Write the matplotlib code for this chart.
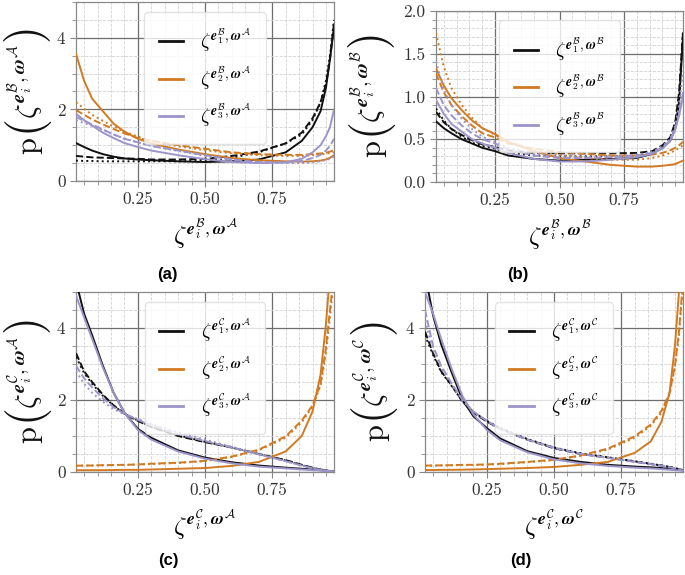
import matplotlib
matplotlib.use('Agg')
import matplotlib.pyplot as plt
from matplotlib.ticker import MultipleLocator, FormatStrFormatter

plt.rcParams['mathtext.fontset'] = 'cm'
plt.rcParams['font.family'] = 'serif'
plt.rcParams['font.serif'] = ['cmr10', 'DejaVu Serif']
plt.rcParams['axes.formatter.use_mathtext'] = True

# ---------------- data ----------------
x_grid = [0.02, 0.05, 0.08, 0.12, 0.16, 0.2, 0.25, 0.3, 0.4, 0.5, 0.6, 0.7,
          0.8, 0.86, 0.9, 0.93, 0.95, 0.965, 0.98]

# panel (a)  e_i^B , w^A
a_e1_solid = [1.06, 0.95, 0.85, 0.75, 0.68, 0.63, 0.60, 0.58, 0.55, 0.53, 0.55, 0.60, 0.80, 1.12, 1.50, 1.95, 2.60, 3.40, 4.30]
a_e1_dash  = [0.70, 0.68, 0.66, 0.65, 0.64, 0.63, 0.62, 0.60, 0.60, 0.62, 0.70, 0.82, 1.05, 1.35, 1.75, 2.20, 2.70, 3.40, 4.40]
a_e1_dot   = [0.57, 0.56, 0.56, 0.55, 0.55, 0.55, 0.55, 0.55, 0.55, 0.56, 0.65, 0.80, 1.05, 1.30, 1.70, 2.20, 2.80, 3.50, 4.50]
a_e2_solid = [3.55, 2.80, 2.30, 1.95, 1.60, 1.38, 1.18, 1.05, 0.88, 0.75, 0.64, 0.58, 0.55, 0.54, 0.55, 0.57, 0.60, 0.65, 0.72]
a_e2_dash  = [1.98, 1.85, 1.72, 1.58, 1.45, 1.33, 1.20, 1.12, 1.00, 0.90, 0.80, 0.75, 0.73, 0.73, 0.75, 0.77, 0.79, 0.82, 0.86]
a_e2_dot   = [2.20, 2.02, 1.85, 1.68, 1.52, 1.38, 1.24, 1.12, 0.97, 0.86, 0.77, 0.72, 0.70, 0.70, 0.72, 0.74, 0.76, 0.78, 0.80]
a_e3_solid = [1.88, 1.70, 1.55, 1.35, 1.20, 1.06, 0.95, 0.85, 0.72, 0.61, 0.53, 0.50, 0.52, 0.62, 0.80, 1.00, 1.25, 1.50, 2.00]
a_e3_dash  = [1.79, 1.68, 1.58, 1.44, 1.30, 1.18, 1.08, 0.98, 0.85, 0.72, 0.60, 0.53, 0.52, 0.56, 0.64, 0.73, 0.85, 0.98, 1.18]
a_e3_dot   = [1.70, 1.62, 1.54, 1.42, 1.30, 1.19, 1.08, 0.98, 0.84, 0.70, 0.58, 0.52, 0.50, 0.50, 0.52, 0.55, 0.58, 0.62, 0.68]

# panel (b)  e_i^B , w^B
b_e1_solid = [0.71, 0.63, 0.57, 0.50, 0.45, 0.40, 0.36, 0.31, 0.27, 0.25, 0.26, 0.27, 0.28, 0.33, 0.40, 0.48, 0.63, 0.95, 1.70]
b_e1_dash  = [0.82, 0.70, 0.62, 0.55, 0.49, 0.44, 0.41, 0.37, 0.34, 0.335, 0.335, 0.335, 0.34, 0.36, 0.43, 0.52, 0.70, 1.05, 1.75]
b_e1_dot   = [0.86, 0.72, 0.62, 0.53, 0.46, 0.42, 0.39, 0.34, 0.31, 0.30, 0.30, 0.30, 0.31, 0.34, 0.42, 0.50, 0.68, 1.00, 1.75]
b_e2_solid = [1.33, 1.13, 0.98, 0.84, 0.72, 0.63, 0.56, 0.47, 0.36, 0.28, 0.24, 0.20, 0.18, 0.18, 0.19, 0.20, 0.21, 0.23, 0.25]
b_e2_dash  = [1.27, 1.05, 0.90, 0.77, 0.66, 0.57, 0.52, 0.45, 0.39, 0.35, 0.33, 0.31, 0.31, 0.32, 0.34, 0.37, 0.40, 0.43, 0.47]
b_e2_dot   = [1.74, 1.35, 1.10, 0.90, 0.75, 0.63, 0.55, 0.47, 0.38, 0.32, 0.28, 0.26, 0.26, 0.28, 0.31, 0.34, 0.37, 0.40, 0.43]
b_e3_solid = [0.96, 0.80, 0.68, 0.59, 0.50, 0.45, 0.40, 0.34, 0.27, 0.24, 0.24, 0.26, 0.29, 0.33, 0.39, 0.48, 0.62, 0.78, 1.00]
b_e3_dash  = [1.10, 0.90, 0.78, 0.66, 0.57, 0.50, 0.45, 0.38, 0.31, 0.28, 0.28, 0.29, 0.31, 0.34, 0.40, 0.48, 0.62, 0.80, 1.05]
b_e3_dot   = [1.41, 1.08, 0.90, 0.74, 0.62, 0.53, 0.47, 0.40, 0.33, 0.30, 0.29, 0.30, 0.32, 0.35, 0.42, 0.50, 0.66, 0.90, 1.30]

# panel (c)  e_i^C , w^A
c_e1_solid = [5.30, 4.40, 3.80, 2.95, 2.20, 1.65, 1.20, 0.95, 0.60, 0.40, 0.27, 0.18, 0.12, 0.09, 0.07, 0.05, 0.04, 0.03, 0.02]
c_e1_dash  = [3.30, 2.80, 2.50, 2.15, 1.85, 1.62, 1.42, 1.25, 1.00, 0.83, 0.68, 0.50, 0.33, 0.20, 0.12, 0.07, 0.04, 0.02, 0.01]
c_e1_dot   = [3.20, 2.75, 2.45, 2.12, 1.84, 1.62, 1.43, 1.26, 1.02, 0.84, 0.68, 0.50, 0.32, 0.19, 0.11, 0.06, 0.03, 0.02, 0.01]
c_e2_solid = [0.05, 0.05, 0.05, 0.05, 0.055, 0.06, 0.06, 0.07, 0.09, 0.11, 0.17, 0.28, 0.57, 1.00, 1.68, 2.70, 4.10, 5.50, 7.00]
c_e2_dash  = [0.175, 0.18, 0.18, 0.19, 0.195, 0.20, 0.21, 0.23, 0.26, 0.31, 0.43, 0.62, 0.99, 1.43, 1.85, 2.45, 3.45, 4.50, 5.50]
c_e2_dot   = [0.17, 0.175, 0.18, 0.185, 0.19, 0.195, 0.205, 0.22, 0.25, 0.30, 0.42, 0.60, 0.95, 1.38, 1.82, 2.40, 3.30, 4.30, 5.40]
c_e3_solid = [4.90, 4.30, 3.70, 2.90, 2.20, 1.65, 1.17, 0.90, 0.57, 0.37, 0.24, 0.15, 0.10, 0.07, 0.05, 0.04, 0.03, 0.02, 0.02]
c_e3_dash  = [2.95, 2.60, 2.35, 2.05, 1.80, 1.62, 1.45, 1.30, 1.05, 0.86, 0.68, 0.49, 0.30, 0.18, 0.10, 0.06, 0.03, 0.02, 0.01]
c_e3_dot   = [2.80, 2.45, 2.20, 1.95, 1.75, 1.60, 1.47, 1.33, 1.10, 0.90, 0.70, 0.50, 0.30, 0.18, 0.10, 0.06, 0.03, 0.02, 0.01]

# panel (d)  e_i^C , w^C
d_e1_solid = [5.50, 4.35, 3.55, 2.75, 2.00, 1.55, 1.22, 0.93, 0.58, 0.39, 0.28, 0.20, 0.15, 0.13, 0.11, 0.09, 0.07, 0.06, 0.05]
d_e1_dash  = [3.90, 3.30, 2.80, 2.40, 1.95, 1.65, 1.40, 1.20, 0.90, 0.66, 0.50, 0.40, 0.29, 0.22, 0.18, 0.14, 0.10, 0.08, 0.05]
d_e1_dot   = [3.80, 3.25, 2.78, 2.38, 1.96, 1.67, 1.42, 1.22, 0.92, 0.68, 0.52, 0.41, 0.30, 0.23, 0.18, 0.14, 0.11, 0.08, 0.05]
d_e2_solid = [0.055, 0.055, 0.06, 0.06, 0.065, 0.07, 0.08, 0.09, 0.11, 0.14, 0.20, 0.28, 0.53, 0.85, 1.40, 2.20, 3.50, 5.00, 6.50]
d_e2_dash  = [0.18, 0.18, 0.185, 0.19, 0.20, 0.20, 0.21, 0.23, 0.28, 0.34, 0.46, 0.65, 0.99, 1.32, 1.70, 2.20, 2.95, 3.90, 5.30]
d_e2_dot   = [0.175, 0.175, 0.18, 0.185, 0.19, 0.195, 0.205, 0.22, 0.27, 0.33, 0.45, 0.62, 0.95, 1.28, 1.65, 2.15, 2.90, 3.80, 5.20]
d_e3_solid = [5.00, 4.40, 3.70, 2.85, 2.10, 1.60, 1.17, 0.88, 0.55, 0.35, 0.24, 0.17, 0.12, 0.10, 0.08, 0.06, 0.05, 0.04, 0.03]
d_e3_dash  = [4.50, 3.50, 2.95, 2.45, 2.00, 1.68, 1.42, 1.20, 0.90, 0.67, 0.50, 0.39, 0.28, 0.22, 0.17, 0.13, 0.10, 0.07, 0.04]
d_e3_dot   = [4.20, 3.40, 2.90, 2.42, 1.98, 1.67, 1.42, 1.21, 0.91, 0.68, 0.51, 0.40, 0.29, 0.22, 0.17, 0.13, 0.10, 0.07, 0.04]

x_ticks = [0.25, 0.50, 0.75]
panel_letters = ['(a)', '(b)', '(c)', '(d)']
set_B = [r'\mathcal{B}', r'\mathcal{B}', r'\mathcal{C}', r'\mathcal{C}']
set_W = [r'\mathcal{A}', r'\mathcal{B}', r'\mathcal{A}', r'\mathcal{C}']

# ---------------- style ----------------
colors = ['#111111', '#d27a22', '#9b95c9']
styles = ['-', '--', ':']

W, H = 685, 575
fig = plt.figure(figsize=(W / 100, H / 100), dpi=100)
renderer = fig.canvas.get_renderer()

def px_axes(left, top, right, bottom):
    return fig.add_axes([left / W, 1 - bottom / H, (right - left) / W, (bottom - top) / H])

def composite_ylabel(center_y_px, base_x_px, content):
    """p( content ) written vertically with tall parentheses."""
    paren_x = base_x_px - 9.0
    pieces = [(r'$\mathrm{p}$', 22, None),
              (r'$($', 33, paren_x),
              (content, 21, None),
              (r'$)$', 33, paren_x)]
    texts, lengths = [], []
    for s, fs, px in pieces:
        if px is not None:
            t = fig.text(0, 0, s, fontsize=fs, rotation=90, rotation_mode='anchor',
                         ha='left', va='center', color='#111111')
        else:
            t = fig.text(0, 0, s, fontsize=fs, rotation=90, rotation_mode='anchor',
                         ha='left', va='baseline', color='#111111')
        bb = t.get_window_extent(renderer)
        texts.append(t)
        lengths.append(bb.height)
    total = sum(lengths)
    y = center_y_px - total / 2
    for t, L, (s, fs, px) in zip(texts, lengths, pieces):
        xx = base_x_px if px is None else px
        t.set_position((xx / W, y / H))
        y += L

panels = [
    dict(box=(76, 2, 334, 181), ylim=(0, 5), ymaj=2, ymin=0.5, yfmt='%d',
         data=[[a_e1_solid, a_e1_dash, a_e1_dot], [a_e2_solid, a_e2_dash, a_e2_dot], [a_e3_solid, a_e3_dash, a_e3_dot]],
         letter_xy=(167, 275), ybase=37),
    dict(box=(436, 11, 683, 182), ylim=(0, 2), ymaj=0.5, ymin=0.1, yfmt='%.1f',
         data=[[b_e1_solid, b_e1_dash, b_e1_dot], [b_e2_solid, b_e2_dash, b_e2_dot], [b_e3_solid, b_e3_dash, b_e3_dot]],
         letter_xy=(518, 275), ybase=381),
    dict(box=(76, 292, 334, 472), ylim=(0, 5), ymaj=2, ymin=0.5, yfmt='%d',
         data=[[c_e1_solid, c_e1_dash, c_e1_dot], [c_e2_solid, c_e2_dash, c_e2_dot], [c_e3_solid, c_e3_dash, c_e3_dot]],
         letter_xy=(168, 561), ybase=37),
    dict(box=(425, 292, 683, 472), ylim=(0, 5), ymaj=2, ymin=0.5, yfmt='%d',
         data=[[d_e1_solid, d_e1_dash, d_e1_dot], [d_e2_solid, d_e2_dash, d_e2_dot], [d_e3_solid, d_e3_dash, d_e3_dot]],
         letter_xy=(521, 560), ybase=384),
]

for k, p in enumerate(panels):
    ax = px_axes(*p['box'])
    sB, sW = set_B[k], set_W[k]
    handles = []
    for ci, series in enumerate(p['data']):
        for si, yv in enumerate(series):
            ln, = ax.plot(x_grid, yv, color=colors[ci], ls=styles[si], lw=1.4,
                          clip_on=True, zorder=3)
            if si == 0:
                handles.append(ln)
    ax.set_xlim(0.02, 0.98)
    ax.set_ylim(*p['ylim'])
    ax.set_xticks(x_ticks)
    ax.xaxis.set_major_formatter(FormatStrFormatter('%.2f'))
    ax.xaxis.set_minor_locator(MultipleLocator(0.05))
    ax.yaxis.set_major_locator(MultipleLocator(p['ymaj']))
    ax.yaxis.set_minor_locator(MultipleLocator(p['ymin']))
    ax.yaxis.set_major_formatter(FormatStrFormatter(p['yfmt']))
    ax.grid(which='major', color='#6e6e6e', lw=0.9, zorder=0)
    ax.grid(which='minor', color='#d2d2d2', lw=0.6, ls='--', zorder=0)
    ax.set_axisbelow(True)
    ax.tick_params(which='both', direction='out', color='#888888', labelsize=12.5,
                   labelcolor='#333333')
    ax.tick_params(which='major', length=4)
    ax.tick_params(which='minor', length=3)
    for s in ax.spines.values():
        s.set_color('#888888')
        s.set_linewidth(0.9)

    labels = [r'$\zeta^{\boldsymbol{e}_%d^{%s},\boldsymbol{\omega}^{%s}}$' % (i + 1, sB, sW)
              for i in range(3)]
    leg = ax.legend(handles, labels, loc='upper center', bbox_to_anchor=(0.5, 0.945),
                    fontsize=14, handlelength=1.25, handletextpad=0.9,
                    labelspacing=0.5, borderpad=0.75, borderaxespad=0.0,
                    framealpha=0.8, edgecolor='#dddddd', fancybox=True)
    for lh in leg.get_lines():
        lh.set_linewidth(2.0)

    ax.set_xlabel(r'$\zeta^{\boldsymbol{e}_i^{%s},\boldsymbol{\omega}^{%s}}$' % (sB, sW),
                  fontsize=18, labelpad=7)

    top, bot = p['box'][1], p['box'][3]
    composite_ylabel(H - (top + bot) / 2, p['ybase'],
                     r'$\zeta^{\boldsymbol{e}_i^{%s},\boldsymbol{\omega}^{%s}}$' % (sB, sW))

    lx, ly = p['letter_xy']
    fig.text(lx / W, 1 - ly / H, panel_letters[k], ha='center', va='center',
             fontsize=12, fontweight='bold', family='Liberation Sans')

fig.savefig('out.png', dpi=100)
